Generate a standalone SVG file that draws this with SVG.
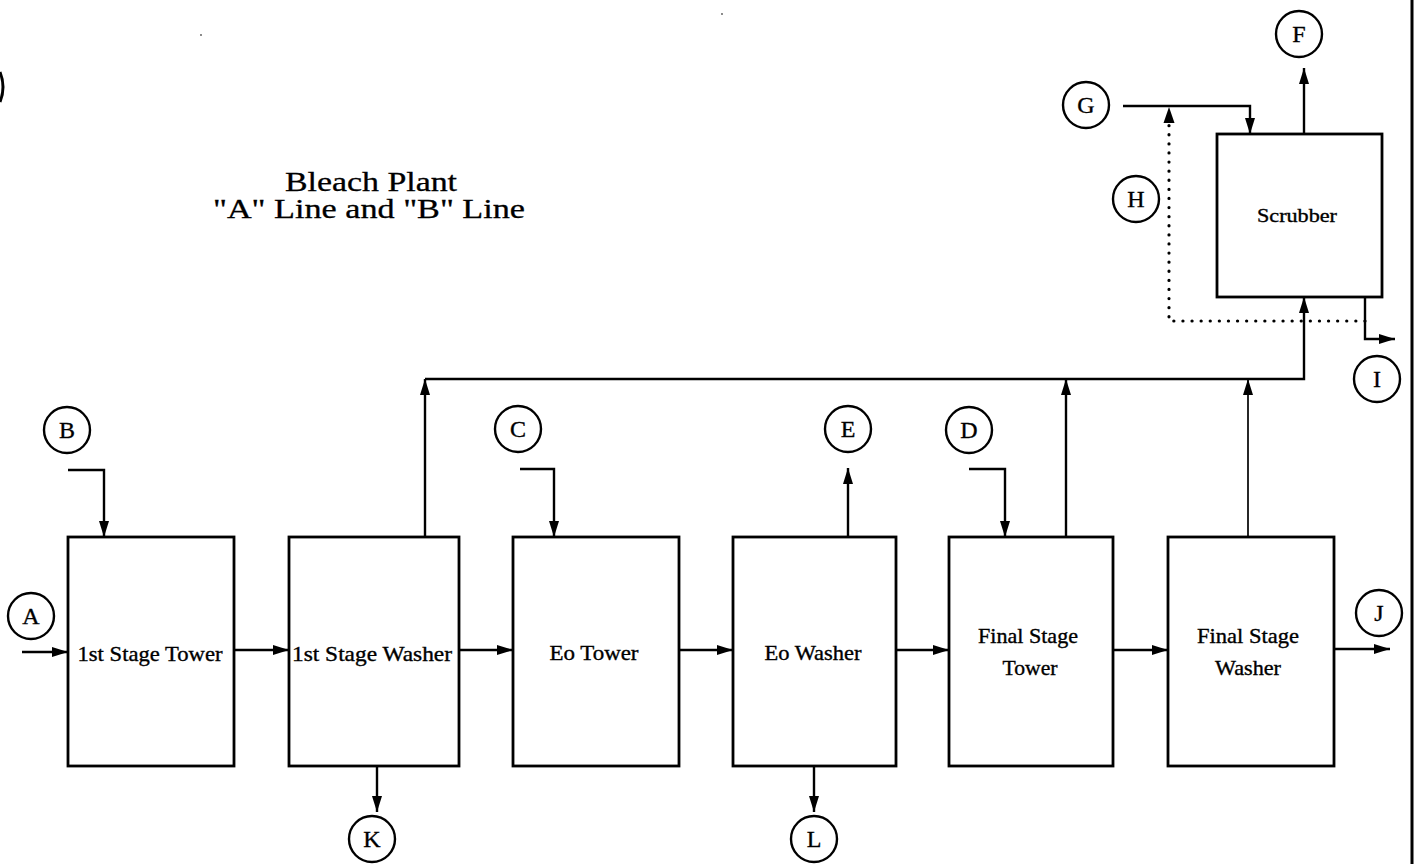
<svg xmlns="http://www.w3.org/2000/svg" width="1420" height="864" viewBox="0 0 1420 864">
<style>
.box{fill:#fff;stroke:#000;stroke-width:2.8}
.lbl{font-family:"Liberation Serif","Times New Roman",serif;font-size:21px;fill:#000;stroke:#000;stroke-width:0.35;text-anchor:middle}
.tag circle{fill:#fff;stroke:#000;stroke-width:2.4}
.tag text{font-family:"Liberation Serif","Times New Roman",serif;font-size:24px;fill:#000;stroke:#000;stroke-width:0.35;text-anchor:middle}
.title{font-family:"Liberation Serif","Times New Roman",serif;font-size:27px;fill:#000;stroke:#000;stroke-width:0.3;text-anchor:middle}
.c{fill:none;stroke:#000;stroke-width:2.4;marker-end:url(#ah)}
.dot{fill:none;stroke:#000;stroke-width:3.2;stroke-dasharray:0.1 9;stroke-linecap:round}
</style>
<defs>
<marker id="ah" viewBox="0 0 16 11" refX="16" refY="5.5" markerWidth="16" markerHeight="11" markerUnits="userSpaceOnUse" orient="auto">
<path d="M0,0.5 L16,5.5 L0,10.5 z" fill="#000"/>
</marker>
</defs>
<rect width="1420" height="864" fill="#fff"/>
<!-- page artifacts -->
<line x1="1412" y1="0" x2="1412" y2="864" stroke="#000" stroke-width="3"/>
<path d="M0,72 Q6,87 0,102" fill="none" stroke="#000" stroke-width="3"/>
<circle cx="201" cy="35" r="0.9" fill="#555"/>
<circle cx="722" cy="14" r="0.9" fill="#555"/>

<g id="title">
<text class="title" x="371" y="191" textLength="172" lengthAdjust="spacingAndGlyphs">Bleach Plant</text>
<text class="title" x="369" y="218" textLength="312" lengthAdjust="spacingAndGlyphs">"A" Line and "B" Line</text>
</g>

<g id="connectors">
<path class="c" d="M22,652 H68"/>
<path class="c" d="M234,650 H289"/>
<path class="c" d="M459,650 H513"/>
<path class="c" d="M679,650 H733"/>
<path class="c" d="M896,650 H949"/>
<path class="c" d="M1113,650 H1168"/>
<path class="c" d="M1334,649 H1390"/>
<path class="c" d="M68,470 H104 V537"/>
<path class="c" d="M520,469 H554 V537"/>
<path class="c" d="M969,469 H1005 V537"/>
<path class="c" d="M848,537 V468"/>
<path class="c" d="M377,766 V812"/>
<path class="c" d="M814,766 V812"/>
<path class="c" d="M425,537 V379"/>
<path class="c" d="M425,379 H1304 V297"/>
<path class="c" d="M1066,537 V379"/>
<path class="c" d="M1248,537 V379" style="stroke-width:1.7"/>
<path class="c" d="M1304,134 V68"/>
<path class="c" d="M1123,106 H1250 V134"/>
<path class="dot" d="M1365,321 H1169 V118"/>
<path d="M1169,107 L1163.5,123 L1174.5,123 z" fill="#000"/>
<path class="c" d="M1365,297 V339 H1395"/>
</g>

<g id="n-1st-stage-tower">
<rect class="box" x="68" y="537" width="166" height="229"/>
<text class="lbl" x="150" y="661" textLength="145" lengthAdjust="spacingAndGlyphs">1st Stage Tower</text>
</g>
<g id="n-1st-stage-washer">
<rect class="box" x="289" y="537" width="170" height="229"/>
<text class="lbl" x="372" y="661" textLength="160" lengthAdjust="spacingAndGlyphs">1st Stage Washer</text>
</g>
<g id="n-eo-tower">
<rect class="box" x="513" y="537" width="166" height="229"/>
<text class="lbl" x="594" y="660" textLength="89" lengthAdjust="spacingAndGlyphs">Eo Tower</text>
</g>
<g id="n-eo-washer">
<rect class="box" x="733" y="537" width="163" height="229"/>
<text class="lbl" x="813" y="660" textLength="97" lengthAdjust="spacingAndGlyphs">Eo Washer</text>
</g>
<g id="n-final-stage-tower">
<rect class="box" x="949" y="537" width="164" height="229"/>
<text class="lbl" x="1028" y="643" textLength="100" lengthAdjust="spacingAndGlyphs">Final Stage</text>
<text class="lbl" x="1030" y="675" textLength="55" lengthAdjust="spacingAndGlyphs">Tower</text>
</g>
<g id="n-final-stage-washer">
<rect class="box" x="1168" y="537" width="166" height="229"/>
<text class="lbl" x="1248" y="643" textLength="102" lengthAdjust="spacingAndGlyphs">Final Stage</text>
<text class="lbl" x="1248" y="675" textLength="66" lengthAdjust="spacingAndGlyphs">Washer</text>
</g>
<g id="n-scrubber">
<rect class="box" x="1217" y="134" width="165" height="163"/>
<text class="lbl" x="1297" y="222" style="font-size:19px" textLength="80" lengthAdjust="spacingAndGlyphs">Scrubber</text>
</g>

<g id="tag-A" class="tag"><circle cx="31" cy="616" r="23"/><text x="31" y="624">A</text></g>
<g id="tag-B" class="tag"><circle cx="67" cy="430" r="23"/><text x="67" y="438">B</text></g>
<g id="tag-C" class="tag"><circle cx="518" cy="429" r="23"/><text x="518" y="437">C</text></g>
<g id="tag-D" class="tag"><circle cx="969" cy="430" r="23"/><text x="969" y="438">D</text></g>
<g id="tag-E" class="tag"><circle cx="848" cy="429" r="23"/><text x="848" y="437">E</text></g>
<g id="tag-F" class="tag"><circle cx="1299" cy="34" r="23"/><text x="1299" y="42">F</text></g>
<g id="tag-G" class="tag"><circle cx="1086" cy="105" r="23"/><text x="1086" y="113">G</text></g>
<g id="tag-H" class="tag"><circle cx="1136" cy="199" r="23"/><text x="1136" y="207">H</text></g>
<g id="tag-I" class="tag"><circle cx="1377" cy="379" r="23"/><text x="1377" y="387">I</text></g>
<g id="tag-J" class="tag"><circle cx="1379" cy="613" r="23"/><text x="1379" y="621">J</text></g>
<g id="tag-K" class="tag"><circle cx="372" cy="839" r="23"/><text x="372" y="847">K</text></g>
<g id="tag-L" class="tag"><circle cx="814" cy="839" r="23"/><text x="814" y="847">L</text></g>
</svg>
